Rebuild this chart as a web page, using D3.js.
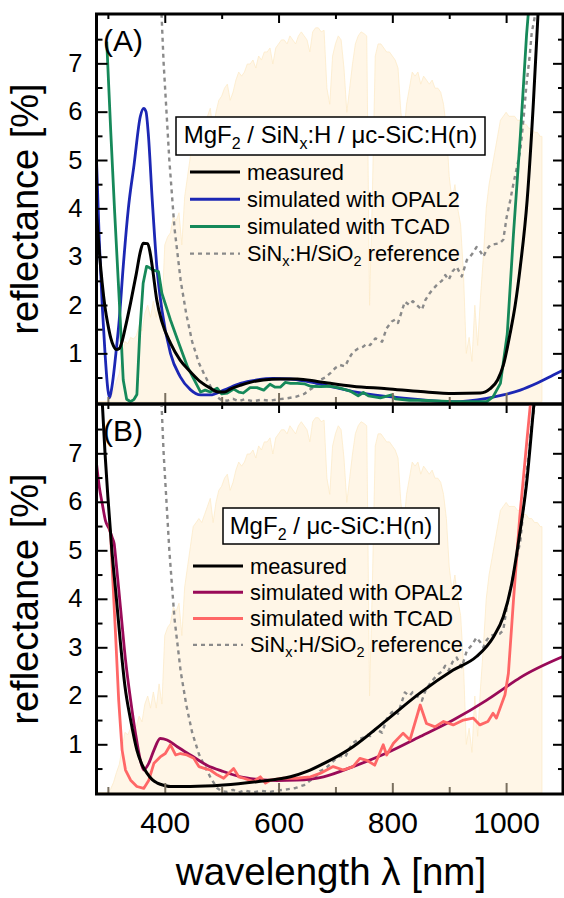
<!DOCTYPE html>
<html><head><meta charset="utf-8">
<script src="https://cdn.jsdelivr.net/npm/d3@7"></script>
<style>
html,body{margin:0;padding:0;background:#fff;}
svg{display:block;}
text{font-family:"Liberation Sans",Arial,Helvetica,sans-serif;fill:#000;}
</style></head><body>
<svg id="chart" width="564" height="898"></svg>
<script>
// AM1.5G photon flux, 1e18 photons / (s m^2 nm): [wavelength nm, flux]
const solarFlux = [
[280,0],[285,0],[290,0],[295,0],[300,0.01],[305,0.05],[310,0.13],[315,0.25],[320,0.35],[325,0.55],
[330,0.75],[335,0.72],[340,0.80],[345,0.78],[350,0.82],[355,0.95],[360,0.88],[365,1.10],[370,1.20],[375,1.05],
[380,1.25],[385,1.05],[390,1.35],[395,1.10],[400,1.95],[405,2.05],[410,2.10],[415,2.30],[420,2.25],[425,2.35],
[430,1.95],[435,2.55],[440,2.80],[445,3.05],[450,3.30],[455,3.35],[460,3.40],[465,3.35],[470,3.45],[475,3.55],
[480,3.65],[485,3.35],[490,3.60],[495,3.75],[500,3.80],[505,3.90],[510,3.95],[515,3.75],[520,3.85],[525,4.00],
[530,4.10],[535,4.05],[540,4.10],[545,4.20],[550,4.20],[555,4.25],[560,4.15],[565,4.30],[570,4.25],[575,4.35],
[580,4.35],[585,4.40],[590,4.20],[595,4.40],[600,4.45],[605,4.50],[610,4.50],[615,4.45],[620,4.55],[625,4.50],
[630,4.45],[635,4.55],[640,4.60],[645,4.55],[650,4.50],[655,4.35],[660,4.60],[665,4.65],[670,4.65],[675,4.60],
[680,4.62],[685,3.90],[690,3.70],[695,4.30],[700,4.45],[705,4.55],[710,4.50],[715,4.15],[720,3.60],[725,3.90],
[730,4.20],[735,4.45],[740,4.55],[745,4.60],[750,4.58],[755,4.55],[760,1.20],[765,2.60],[770,4.30],[775,4.45],
[780,4.45],[785,4.40],[790,4.35],[795,4.35],[800,4.30],[805,4.25],[810,4.15],[815,3.60],[820,3.30],[825,3.70],
[830,3.90],[835,4.10],[840,4.05],[845,4.10],[850,3.95],[855,4.05],[860,4.00],[865,3.95],[870,4.00],[875,3.90],
[880,3.90],[885,3.85],[890,3.70],[895,3.40],[900,2.80],[905,2.50],[910,2.70],[915,2.40],[920,2.20],[925,1.60],
[930,0.60],[935,0.80],[940,0.50],[945,1.20],[950,0.70],[955,1.30],[960,1.80],[965,2.40],[970,2.70],[975,2.90],
[980,3.10],[985,3.30],[990,3.50],[995,3.55],[1000,3.60],[1005,3.55],[1010,3.55],[1015,3.55],[1020,3.50],[1025,3.50],
[1030,3.45],[1035,3.45],[1040,3.40],[1045,3.40],[1050,3.35],[1055,3.35],[1060,3.30],[1063,3.30]
];

// Reflectance [%] of the SiNx:H/SiO2 reference stack (shown in both panels)
const referenceSiNx = [
[380,11],[390,9.2],[398,7.0],[408,5.0],[417,3.6],[428,2.5],[438,1.8],[448,1.25],[460,0.8],[470,0.55],
[482,0.28],[492,0.1],[500,0.03],[510,0.02],[520,0.06],[530,0.01],[540,0.05],[555,0.01],[570,0.04],[585,0.02],
[600,0.05],[615,0.07],[630,0.1],[645,0.16],[655,0.25],[665,0.32],[673,0.45],[682,0.5],[691,0.59],[700,0.7],
[708,0.76],[717,0.73],[724,0.9],[731,1.03],[740,1.1],[749,1.14],[755,1.2],[761,1.17],[770,1.31],[776,1.28],
[782,1.24],[790,1.52],[799,1.66],[805,1.7],[810,1.63],[816,1.85],[822,2.07],[830,2.0],[836,2.08],[843,2.0],
[852,1.9],[858,2.1],[866,2.25],[873,2.35],[881,2.45],[887,2.5],[893,2.62],[899,2.52],[906,2.7],[913,2.79],
[922,2.59],[931,2.93],[940,3.05],[948,3.2],[955,3.1],[960,3.0],[966,3.15],[972,3.24],[980,3.26],[989,3.28],
[995,3.35],[1001,3.82],[1007,4.15],[1013,4.52],[1019,4.85],[1025,5.2],[1031,5.9],[1036,6.59],[1041,7.1],[1045,7.63],
[1051,8.0],[1056,8.7]
];

// (A) MgF2 / SiNx:H / uc-SiC:H(n)
const measuredA = [
[280,3.9],[285,3.1],[290,2.45],[295,1.95],[300,1.6],[305,1.32],[310,1.15],[315,1.08],[320,1.1],[325,1.25],
[330,1.5],[340,2.05],[350,2.65],[357,3.1],[362,3.28],[370,3.27],[374,3.1],[378,2.8],[386,2.1],[395,1.65],
[410,1.21],[427,0.86],[445,0.62],[463,0.41],[480,0.28],[495,0.2],[505,0.2],[515,0.26],[533,0.34],[550,0.4],
[573,0.45],[603,0.47],[633,0.47],[668,0.42],[691,0.38],[730,0.32],[790,0.27],[850,0.21],[907,0.17],[955,0.18],
[972,0.27],[985,0.45],[995,0.75],[1007,1.41],[1016,2.0],[1025,2.8],[1037,4.17],[1048,6.2],[1056,8.0],[1062,9.5]
];
const opal2A = [
[280,5.0],[285,3.3],[290,2.0],[295,1.0],[300,0.25],[303,0.08],[307,0.3],[315,1.1],[320,1.7],[327,2.8],
[336,4.0],[346,4.9],[357,5.9],[363,6.07],[367,6.0],[371,5.55],[378,4.17],[386,2.8],[395,1.9],[410,1.0],
[427,0.52],[445,0.25],[463,0.14],[480,0.14],[504,0.24],[533,0.38],[562,0.45],[591,0.48],[621,0.47],[650,0.42],
[679,0.35],[731,0.21],[790,0.11],[849,0.04],[907,0.0],[966,0.07],[995,0.14],[1025,0.24],[1054,0.38],[1083,0.55],
[1100,0.65]
];
const tcadA = [
[298,7.45],[305,5.6],[312,3.9],[320,2.1],[327,0.45],[333,0.05],[340,0.0],[346,0.05],[351,0.15],[356,1.42],
[362,2.45],[368,2.8],[372,2.78],[380,2.72],[389,2.69],[395,2.24],[410,1.69],[425,1.2],[440,0.72],[455,0.38],
[463,0.2],[471,0.24],[480,0.2],[492,0.28],[500,0.16],[510,0.18],[521,0.26],[530,0.2],[538,0.18],[550,0.29],
[562,0.29],[574,0.24],[585,0.36],[594,0.3],[603,0.3],[612,0.4],[621,0.38],[633,0.38],[645,0.37],[656,0.32],
[673,0.31],[690,0.32],[708,0.28],[726,0.22],[740,0.12],[749,0.19],[758,0.12],[779,0.08],[799,0.14],[805,0.06],
[830,0.03],[849,0.03],[907,0.0],[966,0.0],[977,0.1],[990,0.38],[1002,1.4],[1013,3.48],[1025,5.5],[1036,7.6],
[1043,8.6]
];

// (B) MgF2 / uc-SiC:H(n)
const measuredB = [
[289,8.3],[295,7.0],[300,6.1],[307,5.0],[315,4.0],[322,3.1],[330,2.2],[340,1.5],[351,0.88],[360,0.58],
[369,0.4],[378,0.27],[387,0.2],[400,0.15],[410,0.13],[445,0.13],[503,0.16],[562,0.23],[621,0.33],[650,0.44],
[679,0.6],[731,0.95],[790,1.5],[849,2.06],[907,2.53],[948,2.81],[978,3.22],[995,3.63],[1010,4.32],[1024,5.35],
[1036,6.38],[1048,7.9],[1055,8.8]
];
const opal2B = [
[280,6.79],[285,6.3],[290,5.97],[296,5.6],[302,5.45],[308,5.25],[311,5.14],[313.5,4.87],[322,3.84],[331,2.74],
[340,1.91],[348.5,1.23],[357,0.68],[363,0.47],[372,0.61],[381,0.88],[392,1.12],[404,1.09],[422,0.95],[445,0.78],
[474,0.57],[503,0.44],[533,0.33],[562,0.28],[597,0.25],[632,0.26],[679,0.33],[731,0.54],[790,0.82],[849,1.16],
[907,1.5],[966,1.91],[1001,2.19],[1024,2.37],[1100,2.81]
];
const tcadB = [
[302,5.55],[305,5.3],[307.5,4.66],[313.4,3.29],[319,1.91],[325,0.88],[331,0.47],[340,0.26],[351,0.13],[363,0.09],
[372,0.26],[381,0.61],[392,0.74],[401,0.81],[410,0.99],[419,0.78],[427.5,0.81],[439,0.78],[451,0.71],[460,0.54],
[471,0.5],[480,0.47],[492,0.37],[503.5,0.3],[512,0.4],[521,0.5],[530,0.33],[539,0.3],[556,0.23],[568,0.33],
[577,0.2],[585.5,0.26],[609,0.3],[632,0.3],[656,0.33],[673,0.4],[696,0.54],[714,0.47],[731,0.54],[743,0.71],
[755,0.67],[769,0.57],[784,0.99],[790,0.78],[802,1.02],[819,1.23],[831,1.09],[849,1.81],[860,1.43],[875,1.36],
[890,1.47],[907,1.4],[925,1.5],[942,1.54],[954,1.4],[968,1.47],[977,1.64],[983,1.54],[998,2.02],[1004,2.46],
[1013,3.98],[1024,5.69],[1036,7.2],[1045,8.3]
];

// Axis ticks
const xMajorTicks = [400, 600, 800, 1000];
const xMinorTicks = [300, 500, 700, 900];
const yMajorTicks = [1, 2, 3, 4, 5, 6, 7];
const yMinorTicks = [0.5, 1.5, 2.5, 3.5, 4.5, 5.5, 6.5, 7.5];
const fluxMax = 4.81;   // photon flux shown at the top of the reflectance range

const legendLabels = ["measured", "simulated with OPAL2", "simulated with TCAD", "SiNx:H/SiO2 reference"];

const panels = [
  { key: "A", label: "(A)", top: 14, bottom: 404, zero: 401.7, eight: 15,
    stack: ["MgF", {sub: "2"}, " / SiN", {sub: "x"}, ":H / μc-SiC:H(n)"],
    box: {x: 176, y: 117, w: 309, h: 38}, legendY: 172, legendX: 190, legendStep: 27.2,
    series: [
      {data: referenceSiNx, color: "#8a8a8a", width: 2.4, dash: "4,4", curve: d3.curveLinear},
      {data: opal2A, color: "#1c27b4", width: 2.8, curve: d3.curveMonotoneX},
      {data: tcadA, color: "#16895a", width: 2.8, curve: d3.curveLinear},
      {data: measuredA, color: "#000000", width: 3, curve: d3.curveMonotoneX}
    ],
    legendColors: ["#000000", "#1c27b4", "#16895a"] },
  { key: "B", label: "(B)", top: 404, bottom: 794, zero: 792.8, eight: 404.8,
    stack: ["MgF", {sub: "2"}, " / μc-SiC:H(n)"],
    box: {x: 223, y: 508, w: 216, h: 36}, legendY: 566, legendX: 193, legendStep: 26.3,
    series: [
      {data: referenceSiNx, color: "#8a8a8a", width: 2.4, dash: "4,4", curve: d3.curveLinear},
      {data: opal2B, color: "#990a58", width: 2.8, curve: d3.curveMonotoneX},
      {data: tcadB, color: "#ff6767", width: 2.8, curve: d3.curveLinear},
      {data: measuredB, color: "#000000", width: 3, curve: d3.curveMonotoneX}
    ],
    legendColors: ["#000000", "#990a58", "#ff6767"] }
];

const svg = d3.select("#chart");
const left = 96.5, right = 563;
const x = d3.scaleLinear().domain([280, 1100]).range([left, right]);
const defs = svg.append("defs");

// text with subscripts: plain strings stay on the baseline, {sub} parts drop down
function richText(sel, parts, subSize, shift) {
  let down = false;
  parts.forEach(part => {
    const ts = sel.append("tspan");
    if (typeof part === "string") {
      if (down) ts.attr("dy", -shift);
      down = false;
      ts.text(part);
    } else {
      ts.attr("dy", shift).style("font-size", subSize).text(part.sub);
      down = true;
    }
  });
}

panels.forEach(p => {
  const y = d3.scaleLinear().domain([0, 8]).range([p.zero, p.eight]);
  const yFlux = d3.scaleLinear().domain([0, fluxMax]).range([p.zero, p.eight]);
  const g = svg.append("g");

  defs.append("clipPath").attr("id", "clip" + p.key)
    .append("rect").attr("x", left).attr("y", p.top)
    .attr("width", right - left).attr("height", p.bottom - p.top);
  const plot = g.append("g").attr("clip-path", `url(#clip${p.key})`);

  // solar photon flux as backdrop
  plot.append("path").datum(solarFlux)
    .attr("d", d3.area().x(d => x(d[0])).y0(yFlux(0)).y1(d => yFlux(d[1])))
    .attr("fill", "#fff6e7").attr("stroke", "#fdebc9").attr("stroke-width", 0.8);

  // reflectance curves
  p.series.forEach(s => {
    plot.append("path").datum(s.data)
      .attr("d", d3.line().curve(s.curve).x(d => x(d[0])).y(d => y(d[1])))
      .attr("fill", "none").attr("stroke", s.color).attr("stroke-width", s.width)
      .attr("stroke-dasharray", s.dash || null).attr("stroke-linejoin", "round");
  });

  // legend title box
  g.append("rect").attr("x", p.box.x).attr("y", p.box.y)
    .attr("width", p.box.w).attr("height", p.box.h)
    .attr("fill", "#fff").attr("stroke", "#000").attr("stroke-width", 1.5);
  const title = g.append("text").attr("x", p.box.x + p.box.w / 2).attr("y", p.box.y + 26)
    .attr("text-anchor", "middle").style("font-size", "24px");
  richText(title, p.stack, "16px", 6);

  // legend entries
  const legendColors = p.legendColors.concat(["#8a8a8a"]);
  legendLabels.forEach((lab, i) => {
    const ly = p.legendY + i * p.legendStep;
    g.append("line").attr("x1", p.legendX).attr("x2", p.legendX + 50)
      .attr("y1", ly).attr("y2", ly)
      .attr("stroke", legendColors[i]).attr("stroke-width", i === 3 ? 2.4 : 3)
      .attr("stroke-dasharray", i === 3 ? "4,4" : null);
    const t = g.append("text").attr("x", p.legendX + 57).attr("y", ly + 7.5)
      .style("font-size", "21.8px");
    if (i === 3) richText(t, ["SiN", {sub: "x"}, ":H/SiO", {sub: "2"}, " reference"], "14.5px", 5);
    else t.text(lab);
  });

  // panel label
  g.append("text").attr("x", 103).attr("y", p.top + 37).style("font-size", "30px").text(p.label);

  // axes with inward ticks
  const yLeft = g.append("g").attr("transform", `translate(${left},0)`)
    .call(d3.axisLeft(y).tickValues(yMajorTicks).tickSizeInner(-11).tickSizeOuter(0).tickPadding(14)
      .tickFormat(d3.format("d")));
  yLeft.selectAll("text").style("font-size", "25.5px").attr("font-family", null);
  g.append("g").attr("transform", `translate(${left},0)`)
    .call(d3.axisLeft(y).tickValues(yMinorTicks).tickSizeInner(-6).tickSizeOuter(0).tickFormat(""));
  g.append("g").attr("transform", `translate(${right},0)`)
    .call(d3.axisRight(y).tickValues(yMajorTicks).tickSizeInner(-10).tickSizeOuter(0).tickFormat(""));
  g.append("g").attr("transform", `translate(${right},0)`)
    .call(d3.axisRight(y).tickValues(yMinorTicks).tickSizeInner(-5).tickSizeOuter(0).tickFormat(""));
  g.append("g").attr("transform", `translate(0,${p.top})`)
    .call(d3.axisTop(x).tickValues(xMajorTicks).tickSizeInner(-9).tickSizeOuter(0).tickFormat(""));
  g.append("g").attr("transform", `translate(0,${p.top})`)
    .call(d3.axisTop(x).tickValues(xMinorTicks).tickSizeInner(-5).tickSizeOuter(0).tickFormat(""));
  const xb = g.append("g").attr("class", "xb").attr("transform", `translate(0,${p.bottom})`)
    .call(d3.axisBottom(x).tickValues(xMajorTicks).tickSizeInner(-11).tickSizeOuter(0).tickPadding(18)
      .tickFormat(p.key === "B" ? d3.format("d") : ""));
  xb.selectAll("text").style("font-size", "30px").attr("font-family", null);
  g.append("g").attr("class", "xb").attr("transform", `translate(0,${p.bottom})`)
    .call(d3.axisBottom(x).tickValues(xMinorTicks).tickSizeInner(-7).tickSizeOuter(0).tickFormat(""));
  g.selectAll(".domain").remove();
  // drop the empty labels of unlabelled tick sets
  g.selectAll(".tick text").filter(function () { return !this.textContent; }).remove();
  g.selectAll(".tick line").attr("stroke", "#000").attr("stroke-width", 2);
  g.selectAll(".xb .tick line").attr("stroke", "#7a7060");

  // y axis title
  g.append("text").attr("transform", `translate(38,${(p.top + p.bottom) / 2}) rotate(-90)`)
    .attr("text-anchor", "middle").style("font-size", "38px").text("reflectance [%]");

  // frame
  g.append("rect").attr("x", left).attr("y", p.top)
    .attr("width", right - left).attr("height", p.bottom - p.top)
    .attr("fill", "none").attr("stroke", "#000").attr("stroke-width", 3);
});

svg.append("text").attr("x", 331).attr("y", 885)
  .attr("text-anchor", "middle").style("font-size", "38.5px").text("wavelength λ [nm]");
</script>
</body></html>
